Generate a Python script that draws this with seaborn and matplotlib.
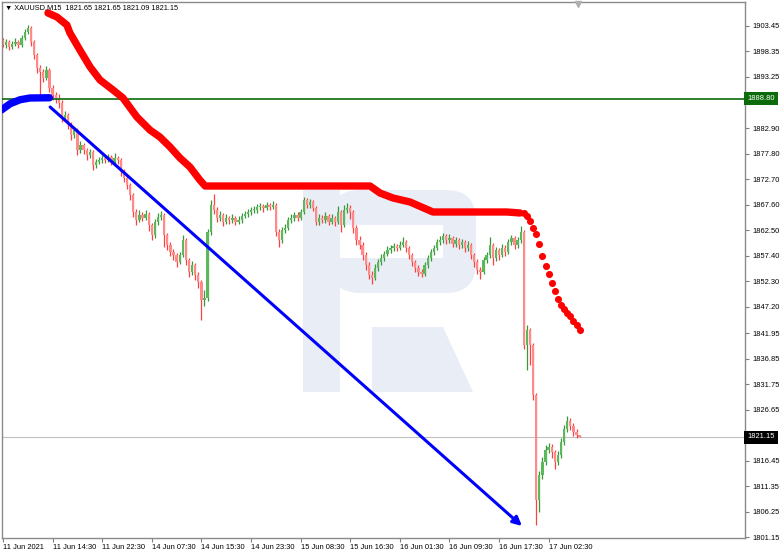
import numpy as np
import matplotlib
matplotlib.use('Agg')
import matplotlib.pyplot as plt
import matplotlib.transforms as mtransforms
from matplotlib.patches import Rectangle, FancyBboxPatch, Polygon
import seaborn as sns

# =============================================================================
# Data (XAUUSD, one candle per 30 minutes of M15 bars)
# =============================================================================
first_open = 1900.6

closes = [
    1899.6, 1900.2, 1899.2, 1899.8, 1900.2, 1899.6, 1901.0, 1902.2, 1903.0, 1900.2,
    1897.6, 1895.0, 1894.2, 1893.0, 1894.6, 1891.0, 1889.6, 1889.0, 1888.0, 1885.0,
    1885.6, 1883.6, 1881.6, 1882.6, 1878.6, 1879.6, 1878.6, 1877.6, 1878.2, 1875.6,
    1876.2, 1876.6, 1877.0, 1876.6, 1877.2, 1876.2, 1877.0, 1876.6, 1874.2, 1873.0,
    1871.6, 1869.6, 1866.2, 1864.6, 1865.6, 1865.0, 1865.8, 1863.6, 1861.6, 1864.2,
    1865.2, 1865.6, 1861.6, 1859.6, 1858.2, 1857.6, 1856.2, 1857.6, 1860.6, 1856.6,
    1854.2, 1855.6, 1853.6, 1852.2, 1848.6, 1849.0, 1862.2, 1867.6, 1866.6, 1865.0,
    1865.6, 1864.2, 1865.0, 1864.6, 1865.0, 1864.2, 1864.6, 1865.4, 1865.8, 1866.2,
    1866.6, 1866.6, 1867.2, 1867.4, 1867.0, 1867.6, 1867.2, 1867.6, 1862.2, 1860.6,
    1862.6, 1863.0, 1864.6, 1865.0, 1865.6, 1865.0, 1866.2, 1868.6, 1867.6, 1868.2,
    1867.0, 1864.2, 1865.0, 1864.6, 1865.4, 1864.2, 1865.0, 1864.2, 1866.2, 1863.6,
    1866.6, 1867.0, 1866.2, 1863.0, 1860.6, 1859.6, 1857.6, 1855.6, 1853.6, 1853.0,
    1855.0, 1856.2, 1857.0, 1857.8, 1858.6, 1859.0, 1859.4, 1859.0, 1859.6, 1860.2,
    1859.0, 1857.6, 1856.2, 1855.0, 1854.2, 1853.8, 1855.6, 1857.0, 1858.2, 1859.0,
    1860.2, 1860.6, 1861.4, 1860.6, 1861.0, 1859.8, 1860.6, 1859.6, 1860.2, 1859.0,
    1859.6, 1857.6, 1856.2, 1854.6, 1854.2, 1856.6, 1857.6, 1859.6, 1857.0, 1858.6,
    1857.6, 1859.0, 1858.2, 1860.2, 1861.0, 1859.6, 1860.6, 1862.2, 1839.6, 1842.6,
    1839.6, 1829.6, 1808.6, 1813.6, 1816.2, 1818.6, 1819.2, 1818.2, 1816.2, 1817.6,
    1820.2, 1822.8, 1824.4, 1823.4, 1822.2, 1821.65, 1821.15]

highs = [
    1901.0, 1900.8, 1900.6, 1900.4, 1901.0, 1900.6, 1901.6, 1902.8, 1903.6, 1903.4,
    1900.6, 1898.0, 1895.6, 1894.8, 1895.4, 1895.0, 1891.6, 1890.2, 1889.8, 1888.6,
    1886.4, 1886.0, 1884.2, 1883.2, 1883.0, 1880.4, 1880.0, 1879.0, 1878.8, 1878.6,
    1876.8, 1877.2, 1877.6, 1877.4, 1877.8, 1877.6, 1878.0, 1877.4, 1877.0, 1874.8,
    1873.4, 1872.0, 1870.0, 1866.8, 1866.6, 1866.2, 1866.6, 1866.2, 1864.0, 1864.8,
    1866.0, 1866.4, 1866.0, 1862.0, 1860.2, 1858.8, 1858.0, 1858.2, 1861.6, 1861.0,
    1857.0, 1856.4, 1856.0, 1854.2, 1852.6, 1850.6, 1862.8, 1868.6, 1869.8, 1867.2,
    1866.4, 1866.0, 1865.8, 1865.4, 1865.8, 1865.4, 1865.4, 1866.0, 1866.4, 1866.8,
    1867.2, 1867.4, 1867.8, 1868.0, 1867.8, 1868.2, 1868.0, 1868.4, 1868.0, 1862.8,
    1863.2, 1863.8, 1865.2, 1865.8, 1866.2, 1866.2, 1866.8, 1869.2, 1869.0, 1868.8,
    1868.6, 1867.4, 1865.8, 1865.6, 1866.2, 1865.8, 1865.8, 1865.4, 1867.4, 1866.6,
    1867.6, 1868.0, 1867.6, 1866.6, 1863.6, 1861.4, 1860.2, 1858.2, 1856.2, 1854.4,
    1855.8, 1856.8, 1857.8, 1858.4, 1859.4, 1859.6, 1860.0, 1859.8, 1860.4, 1861.2,
    1860.6, 1859.4, 1858.0, 1856.6, 1855.6, 1854.8, 1856.2, 1857.6, 1858.8, 1859.6,
    1860.8, 1861.4, 1862.0, 1861.8, 1861.8, 1861.4, 1861.2, 1861.0, 1860.8, 1860.6,
    1860.4, 1860.0, 1858.0, 1856.8, 1855.2, 1857.2, 1858.2, 1861.2, 1860.0, 1859.2,
    1859.0, 1859.8, 1859.6, 1860.8, 1861.6, 1861.4, 1861.2, 1863.4, 1862.6, 1843.6,
    1843.0, 1840.0, 1830.0, 1814.4, 1817.2, 1819.6, 1820.0, 1819.8, 1818.6, 1818.4,
    1821.0, 1823.6, 1825.4, 1825.0, 1824.0, 1822.8, 1821.65]

lows = [
    1899.2, 1899.0, 1898.6, 1898.8, 1899.4, 1899.0, 1899.2, 1900.6, 1901.8, 1899.4,
    1896.8, 1894.0, 1889.2, 1892.2, 1892.6, 1890.2, 1888.6, 1888.0, 1887.0, 1884.2,
    1884.4, 1882.8, 1880.6, 1881.0, 1877.6, 1878.0, 1877.8, 1876.6, 1877.0, 1874.6,
    1875.0, 1875.8, 1876.0, 1876.0, 1876.2, 1875.6, 1875.8, 1875.8, 1873.4, 1872.2,
    1870.8, 1868.6, 1865.2, 1863.6, 1864.2, 1864.4, 1864.6, 1862.4, 1860.6, 1861.0,
    1863.6, 1864.6, 1859.2, 1858.6, 1857.4, 1856.6, 1855.2, 1855.8, 1857.2, 1855.6,
    1853.2, 1853.6, 1852.6, 1851.0, 1844.6, 1847.4, 1848.4, 1861.6, 1865.8, 1864.2,
    1864.4, 1863.4, 1863.8, 1863.8, 1864.0, 1863.6, 1863.8, 1864.0, 1865.0, 1865.2,
    1865.6, 1866.0, 1866.0, 1866.6, 1866.2, 1866.6, 1866.6, 1866.8, 1861.4, 1859.2,
    1860.0, 1862.0, 1862.6, 1864.0, 1864.4, 1864.4, 1864.6, 1865.8, 1867.0, 1867.0,
    1866.4, 1863.6, 1863.6, 1864.0, 1864.0, 1863.6, 1863.8, 1863.4, 1863.8, 1862.2,
    1863.2, 1866.0, 1864.8, 1862.0, 1859.6, 1858.8, 1856.6, 1854.6, 1852.8, 1851.8,
    1852.6, 1854.4, 1855.6, 1856.4, 1857.4, 1858.0, 1858.4, 1858.4, 1858.6, 1859.2,
    1858.2, 1856.8, 1855.4, 1854.2, 1853.4, 1853.2, 1853.4, 1855.0, 1856.4, 1857.6,
    1858.6, 1859.6, 1860.0, 1859.8, 1860.0, 1859.2, 1859.2, 1858.8, 1859.0, 1858.2,
    1858.4, 1856.8, 1855.2, 1853.8, 1852.8, 1853.8, 1856.0, 1857.0, 1855.6, 1856.4,
    1856.6, 1857.2, 1857.4, 1857.8, 1859.6, 1858.8, 1859.0, 1860.0, 1838.8, 1834.6,
    1835.6, 1828.6, 1803.6, 1806.2, 1812.8, 1815.6, 1818.0, 1817.0, 1814.8, 1815.6,
    1817.0, 1819.6, 1822.2, 1822.6, 1821.4, 1821.0, 1821.09]

# each candle opens where the previous one closed
opens = [first_open] + closes[:-1]

# time axis labels and the candle they sit on
time_labels = ['11 Jun 2021', '11 Jun 14:30', '11 Jun 22:30', '14 Jun 07:30',
               '14 Jun 15:30', '14 Jun 23:30', '15 Jun 08:30', '15 Jun 16:30',
               '16 Jun 01:30', '16 Jun 09:30', '16 Jun 17:30', '17 Jun 02:30']
time_label_bars = [0, 16, 32, 48, 64, 80, 96, 112, 128, 144, 160, 176]

price_ticks = [1903.45, 1898.35, 1893.25, 1888.05, 1882.90, 1877.80, 1872.70,
               1867.60, 1862.50, 1857.40, 1852.30, 1847.20, 1841.95, 1836.85,
               1831.75, 1826.65, 1821.55, 1816.45, 1811.35, 1806.25, 1801.15]
# these two labels sit under the level / last price boxes
hidden_ticks = [1888.05, 1821.55]

# red resistance indicator (solid part, then the dotted tail)
resist_bar = [14.5, 17.4, 20.6, 21.6, 24.8, 28.1, 31.3, 35.5, 38.7, 43.2, 47.4,
              50.6, 53.9, 57.1, 60.3, 63.5, 65.2, 118.4, 121.6, 125.8, 131.3,
              138.7, 162.6, 166.8]
resist_price = [1905.95, 1905.15, 1903.55, 1901.95, 1898.55, 1895.15, 1892.55,
                1890.55, 1888.95, 1885.15, 1882.55, 1881.15, 1879.15, 1876.95,
                1875.15, 1872.55, 1871.35, 1871.35, 1869.95, 1868.95, 1868.15,
                1866.15, 1866.15, 1865.95]
resist_dot_bar = list(range(168, 187))
resist_dot_price = [1865.95, 1865.35, 1864.35, 1862.95, 1861.75, 1859.75, 1857.35,
                    1855.35, 1853.75, 1851.95, 1850.35, 1848.75, 1847.55, 1846.75,
                    1845.95, 1845.35, 1844.35, 1843.55, 1842.55]

# blue support indicator at the start
support_bar = [-0.4, 2.3, 5.5, 8.7, 15.0]
support_price = [1886.6, 1887.8, 1888.6, 1888.95, 1889.0]

# blue trend arrow
trend_bar = [15.2, 167.4]
trend_price = [1887.15, 1803.35]

level_price = 1888.80
last_price = 1821.15
header = '\u25bc XAUUSD,M15  1821.65 1821.65 1821.09 1821.15'

# =============================================================================
# Plot
# =============================================================================
sns.set_theme(style='white')
plt.rcParams['font.family'] = ['Liberation Sans', 'DejaVu Sans']

W, H = 782, 554
fig = plt.figure(figsize=(W / 100, H / 100), dpi=100)
ax = fig.add_axes([2 / W, 16 / H, 743 / W, 536 / H])

o = np.array(opens)
c = np.array(closes)
hi = np.array(highs)
lo = np.array(lows)
x = np.arange(len(c))
up = c >= o

# watermark logo (drawn in image pixels)
ident = mtransforms.IdentityTransform()
wm = '#e9eef6'
def box(x0, y0, x1, y1):
    return (x0, H - y1), x1 - x0, y1 - y0

xy, w, h = box(303, 190, 340, 392)
ax.add_patch(Rectangle(xy, w, h, transform=ident, fc=wm, ec='none', zorder=0))
xy, w, h = box(330, 190, 476, 293)
ax.add_patch(FancyBboxPatch(xy, w, h, boxstyle='round,pad=0,rounding_size=30',
                            transform=ident, fc=wm, ec='none', zorder=0))
xy, w, h = box(340, 225, 443, 258)
ax.add_patch(Rectangle(xy, w, h, transform=ident, fc='white', ec='none', zorder=0.1))
leg = [(372, 327), (443, 327), (473, 392), (372, 392)]
ax.add_patch(Polygon([(px, H - py) for px, py in leg], closed=True,
                     transform=ident, fc=wm, ec='none', zorder=0))

# candles
ax.vlines(x[up], lo[up], hi[up], color='#3a963a', lw=0.9, zorder=2)
ax.vlines(x[~up], lo[~up], hi[~up], color='#ff4040', lw=0.9, zorder=2)
body_lo = np.minimum(o, c)
body_h = np.maximum(np.abs(c - o), 0.25)
ax.bar(x[up], body_h[up], bottom=body_lo[up], width=0.75, color='#5cb85c', lw=0, zorder=2)
ax.bar(x[~up], body_h[~up], bottom=body_lo[~up], width=0.75, color='#ff8a8a', lw=0, zorder=2)

# horizontal levels
ax.axhline(level_price, color='#0b6b0b', lw=1.2, zorder=3)
ax.axhline(last_price, color='#c0c0c0', lw=0.8, zorder=1)

# indicators
sns.lineplot(x=resist_bar, y=resist_price, color='#ff0000', lw=5.3, sort=False,
             solid_capstyle='round', ax=ax, zorder=4)
sns.scatterplot(x=resist_dot_bar, y=resist_dot_price, color='#ff0000', s=26,
                linewidth=0, ax=ax, zorder=4)
sns.lineplot(x=support_bar, y=support_price, color='#0000ff', lw=5.3, sort=False,
             solid_capstyle='round', ax=ax, zorder=4)

ax.annotate('', xy=(trend_bar[1], trend_price[1]), xytext=(trend_bar[0], trend_price[0]),
            arrowprops=dict(arrowstyle='-|>', color='#0000ff', lw=2.2,
                            mutation_scale=13, shrinkA=0, shrinkB=0), zorder=4)

# axes
ax.set_xlim(-0.32, 239.35)
ax.set_ylim(1800.95, 1908.15)
ax.yaxis.tick_right()
ax.set_yticks(price_ticks)
ax.set_yticklabels(['' if p in hidden_ticks else '%.2f' % p for p in price_ticks])
ax.set_xticks(time_label_bars)
ax.set_xticklabels(time_labels)
for lab in ax.get_xticklabels():
    lab.set_horizontalalignment('left')
ax.tick_params(axis='y', which='both', direction='out', length=3, width=0.8,
               color='#808080', labelcolor='black', labelsize=5.4, pad=2,
               right=True, left=False)
ax.tick_params(axis='x', direction='out', length=3, width=0.8, color='#808080',
               labelcolor='black', labelsize=5.4, pad=1.5, bottom=True)
for s in ax.spines.values():
    s.set_color('#8a8a8a')
    s.set_linewidth(1.0)
ax.set_xlabel('')
ax.set_ylabel('')

# price boxes on the right scale
ytr = ax.get_yaxis_transform()
ax.text(1.003, level_price, '%.2f' % level_price, transform=ytr, ha='left', va='center',
        fontsize=5.4, color='white', clip_on=False, zorder=10,
        bbox=dict(boxstyle='square,pad=0.4', fc='#0b6b0b', ec='none'))
ax.text(1.003, last_price, '%.2f' % last_price, transform=ytr, ha='left', va='center',
        fontsize=5.4, color='white', clip_on=False, zorder=10,
        bbox=dict(boxstyle='square,pad=0.4', fc='black', ec='none'))

# header and chart shift marker
fig.text(5 / W, 1 - 8 / H, header, fontsize=5.3, color='black', ha='left', va='center')
ax.plot([0.775], [0.996], marker='v', color='#b0b0b0', markersize=5,
        transform=ax.transAxes, clip_on=False, zorder=5)

plt.savefig('out.png', dpi=100)
